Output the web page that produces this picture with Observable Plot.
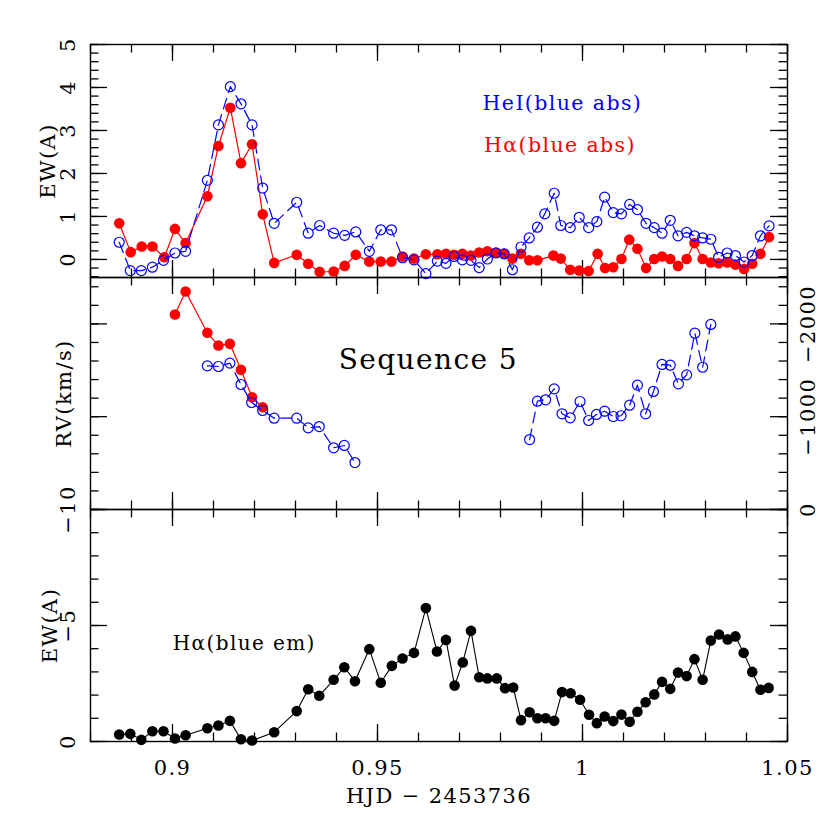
<!DOCTYPE html>
<html><head><meta charset="utf-8">
<script src="https://cdn.jsdelivr.net/npm/d3@7"></script>
<script src="https://cdn.jsdelivr.net/npm/@observablehq/plot@0.6"></script>
<style>
body{margin:0;background:#fff;}
#wrap{position:relative;width:830px;height:830px;}
#wrap svg{position:absolute;left:0;overflow:visible;}
</style></head><body><div id="wrap"></div>
<script>
// ---------- data ----------
// Top panel: Hα (blue abs) equivalent width
const hjdHaAbs = [0.8870,0.8898,0.8925,0.8951,0.8980,0.9006,0.9032,0.9085,0.9112,0.9141,0.9167,0.9194,0.9220,0.9248,0.9303,0.9331,0.9359,0.9393,0.9420,0.9447,0.9480,0.9508,0.9534,0.9561,0.9589,0.9618,0.9646,0.9667,0.9687,0.9707,0.9728,0.9748,0.9768,0.9789,0.9809,0.9829,0.9850,0.9870,0.9890,0.9929,0.9947,0.9970,0.9992,1.0015,1.0037,1.0055,1.0075,1.0095,1.0114,1.0134,1.0155,1.0175,1.0194,1.0214,1.0233,1.0254,1.0273,1.0293,1.0313,1.0332,1.0353,1.0373,1.0394,1.0414,1.0434,1.0455];
const ewHaAbs  = [0.84,0.17,0.30,0.30,0.05,0.71,0.38,1.47,2.64,3.53,2.24,2.68,1.05,-0.08,0.11,-0.10,-0.29,-0.28,-0.15,0.11,-0.05,-0.05,-0.05,0.07,0.02,0.12,0.12,0.13,0.11,0.13,0.09,0.16,0.19,0.16,0.13,0.02,0.13,-0.02,-0.02,0.09,0.02,-0.24,-0.26,-0.27,0.13,-0.20,-0.18,0.01,0.46,0.25,-0.20,0.01,0.07,0.01,-0.15,0.01,0.38,0.01,-0.07,-0.09,-0.07,-0.12,-0.22,-0.10,0.13,0.52];
// Top panel: HeI (blue abs) equivalent width
const hjdHeAbs = [0.8870,0.8897,0.8924,0.8951,0.8978,0.9006,0.9032,0.9085,0.9112,0.9141,0.9167,0.9194,0.9220,0.9248,0.9303,0.9331,0.9359,0.9393,0.9420,0.9447,0.9480,0.9508,0.9534,0.9561,0.9589,0.9618,0.9646,0.9667,0.9687,0.9707,0.9728,0.9748,0.9768,0.9789,0.9809,0.9829,0.9850,0.9870,0.9890,0.9908,0.9931,0.9947,0.9970,0.9992,1.0015,1.0035,1.0054,1.0075,1.0095,1.0115,1.0134,1.0155,1.0175,1.0194,1.0214,1.0233,1.0254,1.0273,1.0293,1.0313,1.0332,1.0353,1.0373,1.0394,1.0414,1.0434,1.0455];
const ewHeAbs  = [0.40,-0.26,-0.26,-0.18,-0.02,0.15,0.19,1.84,3.13,4.02,3.62,3.13,1.66,0.84,1.33,0.61,0.79,0.61,0.56,0.64,0.19,0.69,0.69,0.04,-0.01,-0.33,-0.04,-0.09,0.07,-0.01,-0.02,-0.19,0.01,0.15,0.13,-0.24,0.29,0.50,0.75,1.06,1.54,0.79,0.74,0.98,0.74,0.88,1.45,1.09,1.06,1.28,1.16,0.84,0.74,0.61,0.91,0.55,0.63,0.55,0.50,0.47,0.05,0.15,0.09,-0.06,0.09,0.55,0.78];
// Middle panel: radial velocities (km/s)
const hjdHaRv = [0.9006,0.9032,0.9085,0.9112,0.9140,0.9167,0.9194,0.9220];
const rvHa    = [-2101,-2349,-1904,-1767,-1785,-1505,-1210,-1102];
const hjdHeRvEarly = [0.9085,0.9112,0.9140,0.9167,0.9193,0.9220,0.9248,0.9303,0.9331,0.9358,0.9393,0.9419,0.9445];
const rvHeEarly    = [-1548,-1541,-1577,-1347,-1153,-1067,-984,-984,-880,-894,-665,-690,-506];
const hjdHeRvLate = [0.9871,0.9890,0.9910,0.9931,0.9950,0.9970,0.9994,1.0015,1.0034,1.0054,1.0075,1.0094,1.0115,1.0134,1.0154,1.0173,1.0194,1.0214,1.0234,1.0254,1.0274,1.0293,1.0313];
const rvHeLate    = [-754,-1167,-1182,-1300,-1031,-988,-1164,-959,-1024,-1059,-1002,-1010,-1124,-1340,-1031,-1272,-1563,-1555,-1354,-1451,-1900,-1533,-1994];
// Bottom panel: Hα (blue em) equivalent width
const hjdHaEm = [0.8870,0.8897,0.8924,0.8951,0.8978,0.9006,0.9032,0.9085,0.9112,0.9140,0.9167,0.9194,0.9248,0.9303,0.9331,0.9358,0.9393,0.9419,0.9445,0.9480,0.9508,0.9535,0.9561,0.9589,0.9618,0.9645,0.9667,0.9688,0.9708,0.9728,0.9748,0.9768,0.9791,0.9811,0.9831,0.9850,0.9871,0.9890,0.9910,0.9931,0.9950,0.9971,0.9994,1.0016,1.0035,1.0054,1.0075,1.0095,1.0115,1.0134,1.0154,1.0175,1.0194,1.0214,1.0233,1.0254,1.0273,1.0293,1.0313,1.0333,1.0354,1.0373,1.0393,1.0414,1.0434,1.0454];
const ewHaEm  = [-0.30,-0.33,-0.07,-0.44,-0.44,-0.13,-0.27,-0.57,-0.69,-0.89,-0.10,-0.04,-0.40,-1.31,-2.25,-1.97,-2.66,-3.20,-2.60,-3.98,-2.53,-3.26,-3.58,-3.82,-5.75,-3.88,-4.38,-2.41,-3.41,-4.77,-2.77,-2.72,-2.72,-2.30,-2.33,-0.92,-1.26,-1.00,-1.00,-0.89,-2.13,-2.08,-1.80,-1.15,-0.79,-1.08,-0.88,-1.16,-0.85,-1.28,-1.69,-2.03,-2.57,-2.27,-2.97,-2.82,-3.55,-2.66,-4.35,-4.61,-4.40,-4.53,-3.82,-3.00,-2.23,-2.31];

// tick labels
const xTickValues = [0.9, 0.95, 1, 1.05];
const xTickLabels = ["0.9", "0.95", "1", "1.05"];
const topYTickValues = [0, 1, 2, 3, 4, 5];
const topYTickLabels = ["0", "1", "2", "3", "4", "5"];
const rvRightTickValues = [0, -1000, -2000];
const rvRightTickLabels = ["0", "\u22121000", "\u22122000"];
const botYTickValues = [0, -5, -10];
const botYTickLabels = ["0", "\u22125", "\u221210"];

// ---------- layout ----------
const W = 830, ML = 90, MR = 43, PW = W - ML - MR;
const xDomain = [0.88, 1.05];
const RED = "#ff0000", BLUE = "#0000ff";
const FONT = "DejaVu Serif";
const xMinor = d3.range(88, 106).map(i => i / 100);
const style = {overflow: "visible", fontFamily: FONT, letterSpacing: "1.4px", background: "transparent"};

function zip(xs, ys) { return xs.map((t, i) => ({t, v: ys[i]})); }

function frameTicks(h, yMinor, yMajor) {
  const minL = 8.5, majL = 17, sw = 1.3;
  return [
    Plot.tickX(xMinor, {x: d => d, insetBottom: h - minL, strokeWidth: sw}),
    Plot.tickX(xMinor, {x: d => d, insetTop: h - minL, strokeWidth: sw}),
    Plot.tickX(xTickValues, {x: d => d, insetBottom: h - majL, strokeWidth: sw}),
    Plot.tickX(xTickValues, {x: d => d, insetTop: h - majL, strokeWidth: sw}),
    Plot.tickY(yMinor, {y: d => d, insetRight: PW - minL, strokeWidth: sw}),
    Plot.tickY(yMinor, {y: d => d, insetLeft: PW - minL, strokeWidth: sw}),
    Plot.tickY(yMajor, {y: d => d, insetRight: PW - majL, strokeWidth: sw}),
    Plot.tickY(yMajor, {y: d => d, insetLeft: PW - majL, strokeWidth: sw}),
    Plot.frame({stroke: "black", strokeWidth: 1.4})
  ];
}

const rotLabel = {rotate: -90, textAnchor: "middle", lineAnchor: "middle", fontSize: 21};

const haAbs = zip(hjdHaAbs, ewHaAbs);
const heAbs = zip(hjdHeAbs, ewHeAbs);
const haRv = zip(hjdHaRv, rvHa);
const heRvA = zip(hjdHeRvEarly, rvHeEarly);
const heRvB = zip(hjdHeRvLate, rvHeLate);
const haEm = zip(hjdHaEm, ewHaEm);

// ---------- top panel ----------
const p1 = Plot.plot({
  width: W, height: 277, marginLeft: ML, marginRight: MR, marginTop: 44, marginBottom: 0,
  x: {domain: xDomain, axis: null},
  y: {domain: [-0.42, 5], axis: null},
  style,
  marks: [
    ...frameTicks(233, d3.range(-2, 26).map(i => i / 5), topYTickValues),
    Plot.line(haAbs, {x: "t", y: "v", stroke: RED, strokeWidth: 1.2}),
    Plot.dot(haAbs, {x: "t", y: "v", r: 5.3, fill: RED}),
    Plot.line(heAbs, {x: "t", y: "v", stroke: BLUE, strokeWidth: 1.2, strokeDasharray: "11,6"}),
    Plot.dot(heAbs, {x: "t", y: "v", r: 5, stroke: BLUE, strokeWidth: 1.2, fill: "none"}),
    Plot.text(topYTickValues, {y: d => d, text: (d, i) => topYTickLabels[i], frameAnchor: "left", dx: -22, ...rotLabel}),
    Plot.text(["EW(A)"], {frameAnchor: "left", dx: -42, ...rotLabel}),
    Plot.text(["HeI(blue abs)"], {x: () => 0.9951, y: () => 3.64, fill: BLUE, fontSize: 20.5}),
    Plot.text(["H\u03b1(blue abs)"], {x: () => 0.9945, y: () => 2.66, fill: RED, fontSize: 20.5})
  ]
});

// ---------- middle panel ----------
const p2 = Plot.plot({
  width: W, height: 232, marginLeft: ML, marginRight: MR, marginTop: 0, marginBottom: 0,
  x: {domain: xDomain, axis: null},
  y: {domain: [0, -2500], axis: null},
  style,
  marks: [
    ...frameTicks(232, d3.range(0, 13).map(i => -200 * i), rvRightTickValues),
    Plot.line(haRv, {x: "t", y: "v", stroke: RED, strokeWidth: 1.2}),
    Plot.dot(haRv, {x: "t", y: "v", r: 5.3, fill: RED}),
    Plot.line(heRvA, {x: "t", y: "v", stroke: BLUE, strokeWidth: 1.2, strokeDasharray: "11,6"}),
    Plot.line(heRvB, {x: "t", y: "v", stroke: BLUE, strokeWidth: 1.2, strokeDasharray: "11,6"}),
    Plot.dot(heRvA, {x: "t", y: "v", r: 5, stroke: BLUE, strokeWidth: 1.2, fill: "none"}),
    Plot.dot(heRvB, {x: "t", y: "v", r: 5, stroke: BLUE, strokeWidth: 1.2, fill: "none"}),
    Plot.text(rvRightTickValues, {y: d => d, text: (d, i) => rvRightTickLabels[i], frameAnchor: "right", dx: 21, ...rotLabel}),
    Plot.text(["RV(km/s)"], {frameAnchor: "left", dx: -26, ...rotLabel}),
    Plot.text(["Sequence 5"], {x: () => 0.9624, y: () => -1610, fontSize: 28})
  ]
});

// ---------- bottom panel ----------
const p3 = Plot.plot({
  width: W, height: 321, marginLeft: ML, marginRight: MR, marginTop: 0, marginBottom: 89,
  x: {domain: xDomain, axis: null},
  y: {domain: [0, -10], axis: null},
  style,
  marks: [
    ...frameTicks(232, d3.range(0, 11).map(i => -i), botYTickValues),
    Plot.line(haEm, {x: "t", y: "v", stroke: "black", strokeWidth: 1.1}),
    Plot.dot(haEm, {x: "t", y: "v", r: 5.3, fill: "black"}),
    Plot.text(botYTickValues, {y: d => d, text: (d, i) => botYTickLabels[i], frameAnchor: "left", dx: -22, ...rotLabel}),
    Plot.text(["EW(A)"], {frameAnchor: "left", dx: -40, ...rotLabel}),
    Plot.text(xTickValues, {x: d => d, text: (d, i) => xTickLabels[i], frameAnchor: "bottom", dy: 27, lineAnchor: "middle", fontSize: 21}),
    Plot.text(["HJD \u2212 2453736"], {frameAnchor: "bottom", dy: 55, lineAnchor: "middle", fontSize: 21}),
    Plot.text(["H\u03b1(blue em)"], {x: () => 0.9175, y: () => -4.22, fontSize: 20})
  ]
});

const wrap = document.getElementById("wrap");
[[p1, 0], [p2, 277], [p3, 509]].forEach(([p, top]) => {
  p.style.top = top + "px";
  wrap.appendChild(p);
});
</script>
</body></html>
